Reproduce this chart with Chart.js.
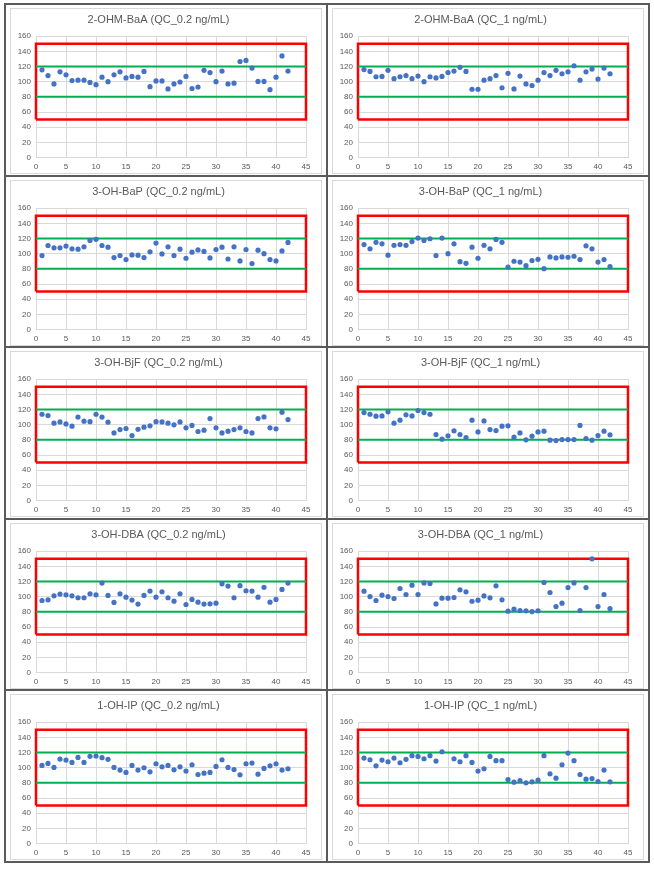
<!DOCTYPE html>
<html>
<head>
<meta charset="utf-8">
<script src="https://cdn.jsdelivr.net/npm/chart.js@4.4.1/dist/chart.umd.min.js"></script>
<style>
  html, body { margin:0; padding:0; background:#fff; }
  #sheet {
    position:absolute; left:4px; top:3px; width:646px; height:860px;
    box-sizing:border-box; padding:2px; background:#5a5a5a;
    display:grid; grid-template-columns:1fr 1fr; grid-template-rows:repeat(5, 1fr); gap:2px;
  }
  .cell { background:#fff; position:relative; }
  .box { position:absolute; left:4px; top:3px; width:312px; height:166px; box-sizing:border-box; border:1px solid #d9d9d9; }
  .box canvas { display:block; }
</style>
</head>
<body>
<div id="sheet"></div>
<script>
// run number on the x axis
const runNo = [1,2,3,4,5,6,7,8,9,10,11,12,13,14,15,16,17,18,19,20,21,
               22,23,24,25,26,27,28,29,30,31,32,33,34,35,36,37,38,39,40,41,42];

// recovery (%) per run
const ohmBaA_02 = [115.7,108,97,113,109,101.5,102,102,99,96,106,100,109,113,105,107,106,113.5,93.4,101,101,
                   90.4,97,99.6,107,91,93,115,112,100,114,97,98,126.6,128,118,100.4,100.4,89.5,106,134,114];
const ohmBaA_1  = [116,113.5,106.5,107,115,104,106.5,108,104,107.4,100,106.5,105,107,112,114,119,113.5,90,90,102,
                   104,108,92,111,90.4,107.4,97,95,102,112,108,115,110.5,113,121,102,113,116.6,103.5,118,110.5];
const ohBaP_02  = [97.5,110.8,107.7,107.7,110,106.4,106,109,117.5,119,110.8,108.6,94.9,97.5,92.2,98.4,98,94.9,102.4,114,99.7,
                   109,97.5,106,94,102,105,103,94.4,105.5,108.6,93,109,90.4,105.5,86.9,104.6,100,92.2,90.4,103.7,114.8];
const ohBaP_1   = [112,106.4,115,113,98,111,112,111,116,120.6,117.5,119.7,97.5,120.6,100,113,89.5,87.3,108.6,94,111,
                   106.4,118.8,115,82.4,90,89,84.2,90.9,92.6,80.2,95.7,94.4,95.7,95.3,96.6,92.2,110.4,106.4,89,92.2,82.9];
const ohBjF_02  = [113.8,112,102,103.7,101,98,110,104.6,104,113.8,110,103.3,89.2,93.6,95,85.7,94,96.7,98.5,104,103.7,
                   102,99.8,103.7,95.8,99,91,92.7,108,95.8,89.2,91.4,93.6,95.8,91,89.2,108,110.3,95.8,94.5,116.5,106.8];
const ohBjF_1   = [116,113.8,111.2,111.6,117,102,106,113,111.6,118.7,116,113.8,87,80.9,85.3,91.9,87,83,106,90.5,105,
                   93.6,92.3,98,98.5,83.5,89.2,80,84.8,90.5,91.4,79.6,79.1,80.4,80.4,80.4,99,81.8,79.6,85.7,91.4,86.6];
const ohDBA_02  = [95,95.9,101.2,103.4,102.5,101.2,98.6,98.6,103.9,102.5,118,101.7,92.4,103.9,99.4,95.5,90.2,101.7,107.4,99.4,106.5,
                   98.6,94.1,103.9,89.7,96.4,92.8,90.2,90.6,91.5,117,114,98.6,114.5,107.8,107.4,99.4,112.3,92.8,96.4,109.6,118];
const ohDBA_1   = [107.3,100.2,95,102,100.2,97.6,110.8,102.9,115.2,102.9,118.2,117.4,90.5,98,98,98.9,109,106.4,94,95.4,101,
                   98.5,114.3,95.8,80.9,83.5,81.8,81.3,80.4,81.3,118.7,105.5,87,91.4,112,118.2,81.8,112,149.9,87,102.9,84.4];
const ohIP_02   = [103,105.6,100.3,111.4,110,107,113.6,107,115,115.4,113.2,111,100.3,96.8,93.7,103,96.8,99.9,94.6,105.2,101.2,
                   103,97.2,101.2,95.5,103.9,91,92.8,93.7,101.7,110.5,100.3,97.6,90.6,105.2,106.1,91.5,99,102.5,105.2,96.8,98.6];
const ohIP_1    = [112.7,110.5,102.5,110,107.8,112.7,106.5,111,115.8,114.9,111.8,115.8,108.7,121,null,111.8,107.8,115.8,107,95.5,98.6,
                   114.9,109.2,109.2,84.4,80.9,83.1,80,81.3,83.5,115.8,91.9,86.2,103.9,119.3,109.2,91,84.9,85.7,81.8,96.8,81.3];

const titles = [
  "2-OHM-BaA (QC_0.2 ng/mL)", "2-OHM-BaA (QC_1 ng/mL)",
  "3-OH-BaP (QC_0.2 ng/mL)",  "3-OH-BaP (QC_1 ng/mL)",
  "3-OH-BjF (QC_0.2 ng/mL)",  "3-OH-BjF (QC_1 ng/mL)",
  "3-OH-DBA (QC_0.2 ng/mL)",  "3-OH-DBA (QC_1 ng/mL)",
  "1-OH-IP (QC_0.2 ng/mL)",   "1-OH-IP (QC_1 ng/mL)"
];
const series = [ohmBaA_02, ohmBaA_1, ohBaP_02, ohBaP_1, ohBjF_02, ohBjF_1, ohDBA_02, ohDBA_1, ohIP_02, ohIP_1];

// acceptance limits and the outer box
const xRange = [0, 45];
const acceptLimits = [80, 120];
const boxLimits = [50, 150];

const textColor = "#595959";
const gridColor = "#d9d9d9";

function makeChart(canvas, title, values){
  const points = values.map((v, i) => ({x: runNo[i], y: v}));
  const limitLine = v => [{x: xRange[0], y: v}, {x: xRange[1], y: v}];
  const box = [
    {x: xRange[0], y: boxLimits[0]}, {x: xRange[0], y: boxLimits[1]},
    {x: xRange[1], y: boxLimits[1]}, {x: xRange[1], y: boxLimits[0]},
    {x: xRange[0], y: boxLimits[0]}
  ];

  new Chart(canvas, {
    type: "scatter",
    data: {
      datasets: [
        {data: points, backgroundColor: "#4472C4", pointRadius: 2.6, borderWidth: 0, order: 0},
        {type: "line", data: limitLine(acceptLimits[1]), borderColor: "#00B050", borderWidth: 2,
         pointRadius: 0, fill: false, order: 1},
        {type: "line", data: limitLine(acceptLimits[0]), borderColor: "#00B050", borderWidth: 2,
         pointRadius: 0, fill: false, order: 1},
        {type: "line", data: box, borderColor: "#ff0000", borderWidth: 2.5,
         pointRadius: 0, fill: false, clip: false, order: 2}
      ]
    },
    options: {
      responsive: false,
      animation: false,
      layout: {padding: {top: 0, left: 0, right: 15, bottom: 0}},
      plugins: {
        legend: {display: false},
        tooltip: {enabled: false},
        title: {
          display: true, text: title, color: textColor,
          font: {family: "'Liberation Sans', Arial, sans-serif", size: 11, weight: "normal"},
          padding: {top: 4, bottom: 10}
        }
      },
      scales: {
        x: {
          type: "linear", min: xRange[0], max: xRange[1],
          ticks: {stepSize: 5, color: textColor, padding: 4,
                  font: {family: "'Liberation Sans', Arial, sans-serif", size: 8}},
          grid: {color: gridColor, drawTicks: false},
          border: {color: gridColor},
          afterFit: s => { s.height = 15.5; }
        },
        y: {
          min: 0, max: 160,
          ticks: {stepSize: 20, color: textColor, padding: 5,
                  font: {family: "'Liberation Sans', Arial, sans-serif", size: 8}},
          grid: {color: gridColor, drawTicks: false},
          border: {color: gridColor},
          afterFit: s => { s.width = 25; }
        }
      }
    }
  });
}

const sheet = document.getElementById("sheet");
titles.forEach((t, i) => {
  const cell = document.createElement("div");
  cell.className = "cell";
  const box = document.createElement("div");
  box.className = "box";
  const canvas = document.createElement("canvas");
  canvas.width = 310;
  canvas.height = 164;
  box.appendChild(canvas);
  cell.appendChild(box);
  sheet.appendChild(cell);
  makeChart(canvas, t, series[i]);
});
</script>
</body>
</html>
